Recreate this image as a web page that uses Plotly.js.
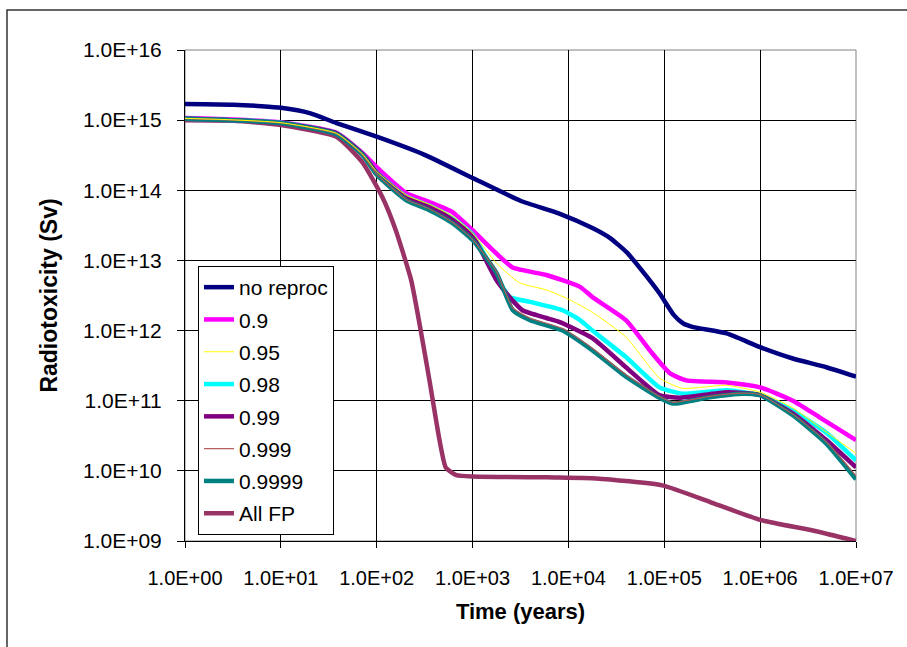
<!DOCTYPE html>
<html>
<head>
<meta charset="utf-8">
<script src="https://cdn.plot.ly/plotly-3.0.1.min.js"></script>
<style>html,body{margin:0;padding:0;background:#fff;}#chart{width:907px;height:647px;}</style>
</head>
<body>
<div id="chart"></div>
<script>
// ---- data (time in years, radiotoxicity in Sv) ----
const seriesNames = ["no reproc", "0.9", "0.95", "0.98", "0.99", "0.999", "0.9999", "All FP"];

const tNoReproc = [1, 3.2, 6.3, 10, 20, 38, 100, 316, 1000, 3160, 7900, 17800, 27000, 40700, 60300, 89100, 126000, 158000, 200000, 447000, 1000000, 2190000, 4900000, 10000000];
const vNoReproc = [1.7e15, 1.66e15, 1.58e15, 1.5e15, 1.26e15, 9.1e14, 5.8e14, 3.2e14, 1.5e14, 7.1e13, 4.7e13, 2.9e13, 2.1e13, 1.3e13, 6.8e12, 3.4e12, 1.66e12, 1.26e12, 1.12e12, 9.1e11, 5.8e11, 4.0e11, 3.0e11, 2.2e11];

const t09 = [1, 3.2, 10, 38, 71, 107, 204, 355, 617, 1000, 1510, 2630, 5890, 13200, 17800, 39800, 70800, 115000, 170000, 447000, 1000000, 2190000, 4170000, 10000000];
const v09 = [1.07e15, 1.02e15, 9.3e14, 6.6e14, 3.4e14, 1.95e14, 9.1e13, 6.8e13, 4.9e13, 2.7e13, 1.55e13, 7.9e12, 6.2e12, 4.2e12, 3.0e12, 1.41e12, 5.2e11, 2.45e11, 1.95e11, 1.82e11, 1.55e11, 1.0e11, 5.8e10, 2.75e10];

const t095 = [1, 3.2, 10, 38, 71, 100, 204, 355, 617, 1000, 1780, 3090, 5890, 10000, 17800, 39800, 89100, 155000, 447000, 1000000, 2190000, 4170000, 10000000];
const v095 = [1.06e15, 1.01e15, 9.2e14, 6.5e14, 3.3e14, 1.85e14, 8.5e13, 6.3e13, 4.3e13, 2.45e13, 9.1e12, 4.8e12, 3.8e12, 2.8e12, 1.82e12, 8.1e11, 2.1e11, 1.5e11, 1.66e11, 1.32e11, 7.9e10, 4.2e10, 1.78e10];

const t098 = [1, 3.2, 10, 38, 71, 100, 204, 355, 617, 1000, 1780, 2450, 3980, 8710, 13200, 17800, 39800, 89100, 155000, 447000, 1000000, 2190000, 4900000, 10000000];
const v098 = [1.05e15, 1.0e15, 9.2e14, 6.5e14, 3.3e14, 1.8e14, 8.1e13, 6.0e13, 4.0e13, 2.34e13, 5.8e12, 3.0e12, 2.57e12, 1.95e12, 1.41e12, 1.0e12, 4.2e11, 1.55e11, 1.26e11, 1.41e11, 1.2e11, 7.2e10, 3.5e10, 1.41e10];

const t099 = [1, 3.2, 10, 38, 71, 100, 204, 355, 617, 1000, 1780, 2430, 3310, 5890, 8130, 17800, 39800, 89100, 145000, 447000, 1000000, 2190000, 4900000, 10000000];
const v099 = [1.05e15, 1.0e15, 9.1e14, 6.5e14, 3.3e14, 1.78e14, 7.9e13, 5.8e13, 3.8e13, 2.24e13, 5.2e12, 3.0e12, 1.95e12, 1.51e12, 1.32e12, 7.8e11, 3.0e11, 1.2e11, 1.1e11, 1.32e11, 1.2e11, 6.6e10, 2.75e10, 1.12e10];

const t0999 = [1, 3.2, 10, 38, 71, 100, 204, 355, 617, 1000, 1780, 2630, 3980, 8710, 17800, 39800, 89100, 123000, 295000, 661000, 1000000, 2190000, 4900000, 10000000];
const v0999 = [1.05e15, 1.0e15, 9.1e14, 6.4e14, 3.2e14, 1.7e14, 7.4e13, 5.4e13, 3.5e13, 2.0e13, 6.9e12, 2.1e12, 1.5e12, 1.07e12, 5.6e11, 2.35e11, 1.15e11, 9.5e10, 1.15e11, 1.28e11, 1.22e11, 6.4e10, 2.6e10, 8.5e9];

const t09999 = [1, 3.2, 10, 38, 71, 100, 204, 355, 617, 1000, 1780, 2630, 3980, 8710, 17800, 39800, 89100, 123000, 295000, 661000, 1000000, 2190000, 4900000, 10000000];
const v09999 = [1.05e15, 1.0e15, 9.1e14, 6.3e14, 3.2e14, 1.66e14, 7.2e13, 5.2e13, 3.4e13, 1.95e13, 6.6e12, 1.95e12, 1.41e12, 1.0e12, 5.2e11, 2.2e11, 1.1e11, 9.1e10, 1.12e11, 1.26e11, 1.2e11, 6.2e10, 2.45e10, 7.6e9];

const tAllFP = [1, 3.2, 10, 38, 71, 115, 158, 229, 288, 355, 452, 525, 676, 5890, 19500, 95500, 316000, 1000000, 3550000, 10000000];
const vAllFP = [1.0e15, 9.8e14, 8.5e14, 5.8e14, 2.5e14, 7.9e13, 2.7e13, 5.2e12, 1.0e12, 1.95e11, 2.75e10, 1.12e10, 8.7e9, 8.1e9, 7.8e9, 6.2e9, 3.5e9, 2.0e9, 1.41e9, 1.0e9];

const xTickVals = [1, 10, 100, 1000, 1e4, 1e5, 1e6, 1e7];
const xTickText = ["1.0E+00", "1.0E+01", "1.0E+02", "1.0E+03", "1.0E+04", "1.0E+05", "1.0E+06", "1.0E+07"];
const yTickVals = [1e9, 1e10, 1e11, 1e12, 1e13, 1e14, 1e15, 1e16];
const yTickText = ["1.0E+09", "1.0E+10", "1.0E+11", "1.0E+12", "1.0E+13", "1.0E+14", "1.0E+15", "1.0E+16"];

// ---- traces ----
const xs = [tNoReproc, t09, t095, t098, t099, t0999, t09999, tAllFP];
const ys = [vNoReproc, v09, v095, v098, v099, v0999, v09999, vAllFP];
const colors = ["#000080", "#FF00FF", "#FFFF00", "#00FFFF", "#800080", "#B05858", "#008080", "#993366"];
const widths = [4.5, 4.5, 1, 4.5, 4.5, 1.2, 4.5, 4.5];
const drawOrder = [7, 0, 1, 3, 4, 6, 5, 2];

const traces = drawOrder.map(i => ({
  x: xs[i], y: ys[i], type: "scatter", mode: "lines",
  name: seriesNames[i],
  legendrank: i + 1,
  legendgroup: "g" + i,
  line: {color: colors[i], width: widths[i], shape: "spline", smoothing: 0.5}
}));

const FONT = "Liberation Sans, Arial, sans-serif";
const L = 185, R = 856, T = 50, B = 541, W = 907, H = 647;
const pw = R - L, ph = B - T;
const px = v => (v - L) / pw;
const py = v => (B - v) / ph;

const layout = {
  width: W, height: H,
  margin: {l: L, r: W - R, t: T, b: H - B, pad: 0},
  paper_bgcolor: "#ffffff",
  plot_bgcolor: "#ffffff",
  font: {family: FONT, color: "#000", size: 20},
  showlegend: true,
  legend: {
    x: px(198), y: py(266), xanchor: "left", yanchor: "top",
    bgcolor: "#ffffff", bordercolor: "#000", borderwidth: 1,
    font: {size: 21, family: FONT, color: "#000"},
    traceorder: "grouped", tracegroupgap: 2, itemwidth: 30
  },
  xaxis: {
    type: "log", range: [0, 7], autorange: false,
    tickvals: xTickVals, ticktext: xTickText,
    showgrid: true, gridcolor: "#000", gridwidth: 1,
    showline: true, linecolor: "#000", linewidth: 1, mirror: false,
    ticks: "outside", ticklen: 6, tickcolor: "#000", tickwidth: 1,
    ticklabelstandoff: 13,
    tickfont: {size: 20, family: FONT, color: "#000"},
    zeroline: false,
    title: {text: "<b>Time (years)</b>", font: {size: 22, family: FONT, color: "#000"}, standoff: 15}
  },
  yaxis: {
    type: "log", range: [9, 16], autorange: false,
    tickvals: yTickVals, ticktext: yTickText,
    showgrid: true, gridcolor: "#000", gridwidth: 1,
    showline: true, linecolor: "#000", linewidth: 1, mirror: false,
    ticks: "outside", ticklen: 7, tickcolor: "#000", tickwidth: 1,
    ticklabelstandoff: 11,
    tickfont: {size: 21, family: FONT, color: "#000"},
    zeroline: false,
    title: {text: "<b>Radiotoxicity (Sv)</b>", font: {size: 23, family: FONT, color: "#000"}, standoff: 18}
  },
  shapes: [
    {type: "rect", xref: "paper", yref: "paper", x0: 0, x1: 1, y0: 0, y1: 1,
     line: {color: "#808080", width: 1}, fillcolor: "rgba(0,0,0,0)", layer: "below"},
    {type: "rect", xref: "paper", yref: "paper", x0: px(7), x1: px(912), y0: py(652), y1: py(10),
     line: {color: "#333333", width: 1.5}, fillcolor: "rgba(0,0,0,0)", layer: "below"}
  ]
};

Plotly.newPlot("chart", traces, layout, {staticPlot: true, displayModeBar: false});
</script>
</body>
</html>
